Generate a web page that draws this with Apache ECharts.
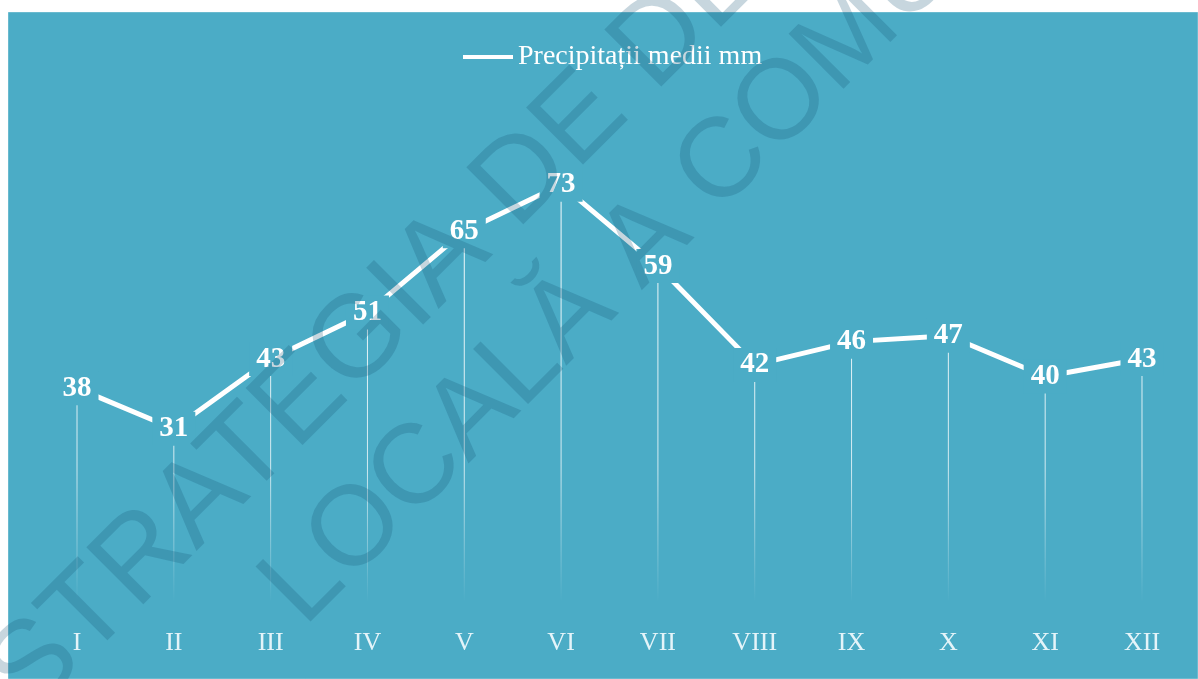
<!DOCTYPE html>
<html><head><meta charset="utf-8">
<script src="https://cdn.jsdelivr.net/npm/echarts@6/dist/echarts.min.js"></script>
<style>html,body{margin:0;padding:0;background:#fff}#c{width:1198px;height:679px}</style>
</head><body><div id="c"></div>
<script>
const categories = ['I','II','III','IV','V','VI','VII','VIII','IX','X','XI','XII'];
const precipitation = [38, 31, 43, 51, 65, 73, 59, 42, 46, 47, 40, 43];
const seriesName = 'Precipitații medii mm';
const watermarkLines = ['STRATEGIA DE DEZVOLTARE', 'LOCALĂ A COMUNEI'];

const BG = '#4BACC6';
const SERIF = '"Liberation Serif", "DejaVu Serif", serif';
const chart = echarts.init(document.getElementById('c'));
function wmStyle(text, size) {
  return {
    text: text,
    font: size + 'px "Liberation Sans", Arial, sans-serif',
    fill: 'rgba(20,85,115,0.24)',
    textAlign: 'left',
    textVerticalAlign: 'middle'
  };
}
chart.setOption({
  animation: false,
  backgroundColor: '#ffffff',
  graphic: [
    { type: 'rect', z: -10, zlevel: 0, shape: { x: 8, y: 12, width: 1190, height: 667 },
      style: { fill: BG, stroke: 'rgba(255,255,255,0.35)', lineWidth: 1 } },
    { type: 'text', zlevel: 2, z: 100, x: 8, y: 694, rotation: Math.PI / 4,
      style: wmStyle(watermarkLines[0], 117) },
    { type: 'text', zlevel: 2, z: 100, x: 282, y: 606, rotation: Math.PI / 4,
      style: wmStyle(watermarkLines[1], 113) }
  ],
  legend: {
    data: [seriesName],
    left: 458, top: 38,
    icon: 'rect', itemWidth: 50, itemHeight: 4,
    textStyle: { color: '#ffffff', fontFamily: SERIF, fontSize: 28 }
  },
  grid: { left: 28.6, right: 7.6, top: 144, bottom: 70, containLabel: false },
  xAxis: {
    type: 'category', data: categories, boundaryGap: true,
    axisLine: { show: false }, axisTick: { show: false },
    axisLabel: { color: '#e4f4f9', fontFamily: SERIF, fontSize: 26, margin: 21 },
    splitLine: { show: false }
  },
  yAxis: { type: 'value', min: 0, max: 80, show: false, splitLine: { show: false } },
  series: [
    {
      type: 'bar', name: 'drop', data: precipitation, barWidth: 1, z: 1,
      silent: true,
      itemStyle: {
        color: {
          type: 'linear', x: 0, y: 150, x2: 0, y2: 602, global: true,
          colorStops: [
            { offset: 0, color: 'rgba(255,255,255,1)' },
            { offset: 0.7, color: 'rgba(255,255,255,0.75)' },
            { offset: 1, color: 'rgba(255,255,255,0)' }
          ]
        }
      }
    },
    {
      type: 'line', name: seriesName, data: precipitation, z: 3,
      symbol: 'none',
      itemStyle: { color: '#ffffff' },
      lineStyle: { color: '#ffffff', width: 5 },
      label: { show: false }
    },
    {
      type: 'line', name: 'labels', data: precipitation, z: 20, zlevel: 1,
      symbol: 'circle', symbolSize: 1, showSymbol: true, silent: true,
      itemStyle: { color: BG, opacity: 1 },
      lineStyle: { opacity: 0, width: 0 },
      label: {
        show: true, position: 'inside', opacity: 1,
        color: '#ffffff', fontFamily: SERIF, fontWeight: 'bold', fontSize: 29,
        backgroundColor: BG, padding: [3, 7, 2, 7]
      }
    }
  ]
});
</script></body></html>
